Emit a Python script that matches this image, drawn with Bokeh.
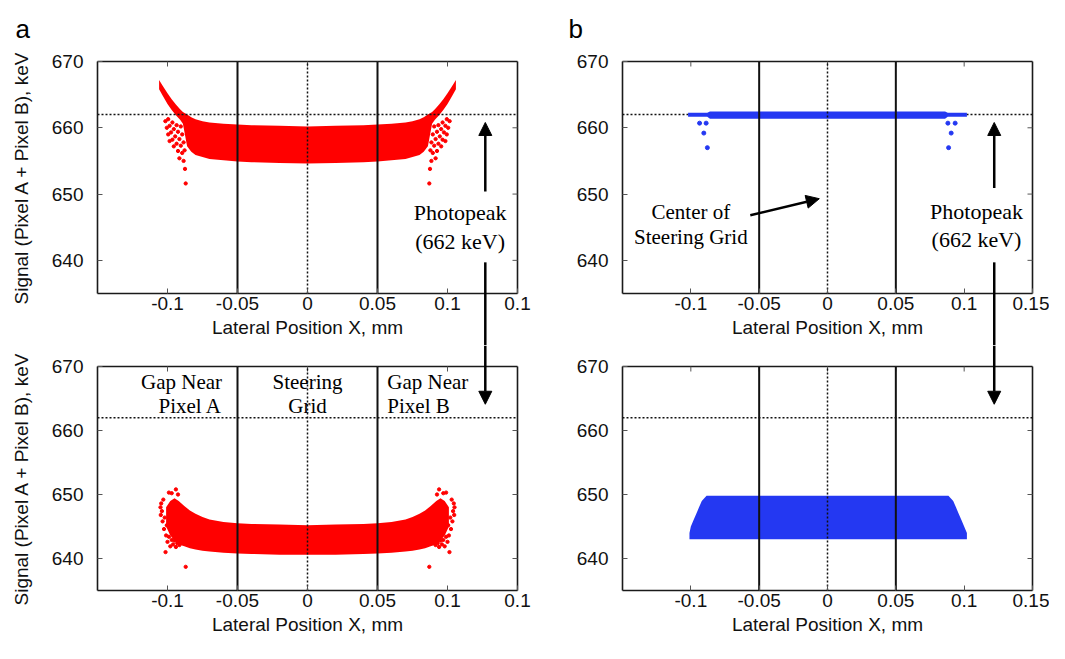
from bokeh.plotting import figure
from bokeh.layouts import column, row
from bokeh.models import Range1d, FixedTicker, LinearAxis, Label, Arrow, NormalHead, Grid
from bokeh.embed import file_html
from bokeh.resources import INLINE

# ---------------- data ----------------
x_ticks = [-0.1, -0.05, 0.0, 0.05, 0.1, 0.15]
x_labels_a = ["-0.1", "-0.05", "0", "0.05", "0.1", "0.1"]
x_labels_b = ["-0.1", "-0.05", "0", "0.05", "0.1", "0.15"]
y_ticks = [640, 650, 660, 670]
x_limits = (-0.15, 0.15)
y_limits = (635, 670)
photopeak_kev = 662
region_bounds = [-0.05, 0.05]
grid_center = [0.0]

# (a) upper panel: dense band (incl. rising horns) + scattered edge points
a1_x = [-0.106, -0.103, -0.100, -0.097, -0.094, -0.091, -0.089, -0.086, -0.083, -0.080, -0.075,
        -0.070, -0.060, -0.050, -0.040, -0.020, 0.0, 0.020, 0.040, 0.050, 0.060, 0.070, 0.075,
        0.080, 0.083, 0.086, 0.089, 0.091, 0.094, 0.097, 0.100, 0.103, 0.106]
a1_hi = [667.2, 666.2, 665.2, 664.3, 663.5, 662.8, 662.4, 662.0, 661.6, 661.3, 661.0,
         660.8, 660.6, 660.5, 660.4, 660.3, 660.2, 660.3, 660.4, 660.5, 660.6, 660.8, 661.0,
         661.3, 661.6, 662.0, 662.4, 662.8, 663.5, 664.3, 665.2, 666.2, 667.2]
a1_lo = [665.8, 664.7, 663.6, 662.7, 661.9, 661.2, 660.6, 657.2, 656.4, 655.9, 655.6,
         655.3, 655.1, 654.9, 654.8, 654.7, 654.6, 654.7, 654.8, 654.9, 655.1, 655.3, 655.6,
         655.9, 656.4, 657.2, 660.6, 661.2, 661.9, 662.7, 663.6, 664.7, 665.8]
a1_pts_x = [-0.1015, -0.1005, -0.0995, -0.0985,
            -0.0995, -0.0985, -0.0975, -0.0965, -0.0955,
            -0.0965, -0.0955, -0.0945, -0.0935, -0.0925, -0.0915,
            -0.0935, -0.0925, -0.0915, -0.0905, -0.0895, -0.0885, -0.0875,
            -0.0905, -0.0895, -0.0885, -0.0878, -0.0870,
            0.1015, 0.1005, 0.0995, 0.0985,
            0.0995, 0.0985, 0.0975, 0.0965, 0.0955,
            0.0965, 0.0955, 0.0945, 0.0935, 0.0925, 0.0915,
            0.0935, 0.0925, 0.0915, 0.0905, 0.0895, 0.0885, 0.0875,
            0.0905, 0.0895, 0.0885, 0.0878, 0.0870]
a1_pts_y = [661.0, 660.0, 659.0, 658.0,
            661.3, 660.3, 659.3, 658.2, 657.2,
            660.8, 659.8, 658.7, 657.6, 656.5, 655.4,
            660.4, 659.4, 658.3, 657.3, 656.2, 655.0, 653.8,
            660.2, 659.0, 657.8, 656.6, 651.6,
            661.0, 660.0, 659.0, 658.0,
            661.3, 660.3, 659.3, 658.2, 657.2,
            660.8, 659.8, 658.7, 657.6, 656.5, 655.4,
            660.4, 659.4, 658.3, 657.3, 656.2, 655.0, 653.8,
            660.2, 659.0, 657.8, 656.6, 651.6]

# (a) lower panel
a2_x = [-0.101, -0.098, -0.095, -0.092, -0.088, -0.084, -0.080, -0.075, -0.070, -0.060, -0.050,
        -0.040, -0.020, 0.0, 0.020, 0.040, 0.050, 0.060, 0.070, 0.075, 0.080, 0.084, 0.088,
        0.092, 0.095, 0.098, 0.101]
a2_hi = [648.0, 649.0, 649.4, 649.0, 648.2, 647.5, 647.0, 646.5, 646.1, 645.7, 645.5,
         645.4, 645.3, 645.2, 645.3, 645.4, 645.5, 645.7, 646.1, 646.5, 647.0, 647.5, 648.2,
         649.0, 649.4, 649.0, 648.0]
a2_lo = [645.0, 643.6, 642.8, 642.2, 641.9, 641.6, 641.4, 641.2, 641.1, 640.9, 640.8,
         640.7, 640.6, 640.6, 640.6, 640.7, 640.8, 640.9, 641.1, 641.2, 641.4, 641.6, 641.9,
         642.2, 642.8, 643.6, 645.0]
a2_pts_x = [-0.105, -0.1048, -0.1045, -0.104, -0.1035, -0.103, -0.1025, -0.102, -0.101, -0.1005,
            -0.100, -0.1014, -0.099, -0.098, -0.097, -0.096, -0.095, -0.094, -0.093, -0.0915,
            -0.099, -0.097, -0.094, -0.0925, -0.087,
            0.105, 0.1048, 0.1045, 0.104, 0.1035, 0.103, 0.1025, 0.102, 0.101, 0.1005,
            0.100, 0.1014, 0.099, 0.098, 0.097, 0.096, 0.095, 0.094, 0.093, 0.0915,
            0.099, 0.097, 0.094, 0.0925, 0.087]
a2_pts_y = [648.0, 646.8, 648.6, 647.4, 645.8, 649.2, 644.6, 646.4, 643.6, 645.2,
            642.6, 641.0, 643.4, 641.9, 642.9, 642.2, 642.8, 641.8, 642.4, 642.1,
            650.3, 650.2, 650.8, 650.0, 638.7,
            648.0, 646.8, 648.6, 647.4, 645.8, 649.2, 644.6, 646.4, 643.6, 645.2,
            642.6, 641.0, 643.4, 641.9, 642.9, 642.2, 642.8, 641.8, 642.4, 642.1,
            650.3, 650.2, 650.8, 650.0, 638.7]

# (b) upper panel
b1_x = [-0.102, -0.088, -0.086, 0.086, 0.088, 0.102]
b1_hi = [662.25, 662.25, 662.45, 662.45, 662.25, 662.25]
b1_lo = [661.65, 661.65, 661.35, 661.35, 661.65, 661.65]
b1_pts_x = [-0.0936, -0.0888, -0.0905, -0.0879, 0.0881, 0.0934, 0.0905, 0.0886]
b1_pts_y = [660.7, 660.7, 659.2, 657.0, 660.7, 660.7, 659.2, 657.0]

# (b) lower panel
b2_x = [-0.101, -0.100, -0.098, -0.096, -0.094, -0.092, -0.0885,
        0.0885, 0.092, 0.094, 0.096, 0.098, 0.100, 0.102]
b2_hi = [644.0, 645.0, 646.0, 647.0, 648.0, 649.0, 649.8,
         649.8, 649.0, 648.0, 647.0, 646.0, 645.0, 644.0]
b2_lo = [643.0, 643.0, 643.0, 643.0, 643.0, 643.0, 643.0,
         643.0, 643.0, 643.0, 643.0, 643.0, 643.0, 643.0]

RED = "#ff0000"
BLUE = "#2438f2"
SANS = "Liberation Sans"
SERIF = "Liberation Serif"
INK = "#111111"
EDGE = "#1a1a1a"
TICK = "#555555"


class Panel:
    def __init__(self, width, height, box, labels, ylabel=None, hline_under=False):
        bx0, bx1, by0, by1 = box
        self.sx = (bx1 - bx0) / (x_limits[1] - x_limits[0])
        self.sy = (by1 - by0) / (y_limits[1] - y_limits[0])
        xr = Range1d(x_limits[0] - bx0 / self.sx, x_limits[1] + (width - bx1) / self.sx)
        yr = Range1d(y_limits[0] - (height - by1) / self.sy, y_limits[1] + by0 / self.sy)
        self.xr, self.yr = xr, yr
        p = figure(width=width, height=height, x_range=xr, y_range=yr,
                   output_backend="svg", toolbar_location=None, title=None,
                   min_border=0, x_axis_location=None, y_axis_location=None)
        p.outline_line_color = None
        p.background_fill_color = "white"
        p.border_fill_color = "white"
        for g in p.select(Grid):
            g.visible = False
        self.p = p

        def style(ax):
            ax.major_label_text_font = SANS
            ax.major_label_text_font_size = "19px"
            ax.major_label_text_color = INK
            ax.axis_label_text_font = SANS
            ax.axis_label_text_font_size = "19px"
            ax.axis_label_text_font_style = "normal"
            ax.axis_label_text_color = INK
            ax.major_tick_in = 5
            ax.major_tick_out = 0
            ax.minor_tick_line_color = None
            ax.axis_line_width = 1.6
            ax.axis_line_color = EDGE
            ax.major_tick_line_color = TICK

        xa = LinearAxis(fixed_location=y_limits[0], bounds=x_limits,
                        ticker=FixedTicker(ticks=x_ticks),
                        major_label_overrides={t: l for t, l in zip(x_ticks, labels)},
                        axis_label="Lateral Position X, mm",
                        major_label_standoff=3, axis_label_standoff=4)
        style(xa)
        p.add_layout(xa, "below")
        ya = LinearAxis(fixed_location=x_limits[0], bounds=y_limits,
                        ticker=FixedTicker(ticks=y_ticks), major_label_standoff=14)
        if ylabel:
            ya.axis_label = ylabel
            ya.axis_label_standoff = 17
        style(ya)
        p.add_layout(ya, "left")

        # closing edges of the box (top and right) with inward mirror ticks
        p.segment(x0=[x_limits[0]], y0=[y_limits[1]], x1=[x_limits[1]], y1=[y_limits[1]],
                  line_color=EDGE, line_width=1.6)
        p.segment(x0=[x_limits[1]], y0=[y_limits[0]], x1=[x_limits[1]], y1=[y_limits[1]],
                  line_color=EDGE, line_width=1.6)
        tick_dy = 5 / self.sy
        tick_dx = 5 / self.sx
        inner_x = x_ticks[:-1]
        inner_y = y_ticks[:-1]
        p.segment(x0=inner_x, y0=[y_limits[1]] * len(inner_x), x1=inner_x,
                  y1=[y_limits[1] - tick_dy] * len(inner_x), line_color=TICK, line_width=1)
        p.segment(x0=[x_limits[1]] * len(inner_y), y0=inner_y,
                  x1=[x_limits[1] - tick_dx] * len(inner_y), y1=inner_y,
                  line_color=TICK, line_width=1)

        if hline_under:
            p.segment(x0=[x_limits[0]], y0=[photopeak_kev], x1=[x_limits[1]], y1=[photopeak_kev],
                      line_color=INK, line_width=1.5, line_dash="2 2", level="underlay")
        self.hline_under = hline_under

    def finish(self):
        p = self.p
        n = len(region_bounds)
        p.segment(x0=region_bounds, y0=[y_limits[0]] * n, x1=region_bounds, y1=[y_limits[1]] * n,
                  line_color=INK, line_width=2)
        p.segment(x0=grid_center, y0=[y_limits[0]], x1=grid_center, y1=[y_limits[1]],
                  line_color=INK, line_width=1.5, line_dash="2 2")
        if not self.hline_under:
            p.segment(x0=[x_limits[0]], y0=[photopeak_kev], x1=[x_limits[1]], y1=[photopeak_kev],
                      line_color=INK, line_width=1.5, line_dash="2 2")

    def px(self, px):
        return self.xr.start + px / self.sx

    def py(self, py):
        return self.yr.end - py / self.sy

    def arrow(self, x0, y0, x1, y1, head=True):
        end = NormalHead(size=13, fill_color="black", line_color="black") if head else None
        self.p.add_layout(Arrow(end=end, x_start=x0, y_start=y0, x_end=x1, y_end=y1,
                                line_color="black", line_width=2.5))

    def text(self, x, y, t, align="center", size="21px", font=SERIF, baseline="middle"):
        self.p.add_layout(Label(x=x, y=y, text=t, text_align=align, text_baseline=baseline,
                                text_font=font, text_font_size=size, text_color="black"))


W_L, W_R = 535, 514
H_T, H_B = 345, 298
BOX_LT = (97, 517, 61, 293)
BOX_RT = (87, 497, 61, 293)
BOX_LB = (97, 517, 21, 245)
BOX_RB = (87, 497, 21, 245)

# panel (a) top
A1 = Panel(W_L, H_T, BOX_LT, x_labels_a, "Signal (Pixel A + Pixel B), keV")
A1.p.varea(x=a1_x, y1=a1_lo, y2=a1_hi, fill_color=RED)
A1.p.scatter(a1_pts_x, a1_pts_y, size=3.3, color=RED)
A1.finish()
A1.text(0.109, 647.2, "Photopeak", size="22px")
A1.text(0.109, 642.8, "(662 keV)", size="22px")
A1.arrow(0.127, 650.4, 0.127, 660.8)
A1.arrow(0.127, 639.7, 0.127, A1.yr.start, head=False)
A1.text(A1.px(15), A1.py(28), "a", align="left", size="26px", font=SANS, baseline="alphabetic")

# panel (b) top
B1 = Panel(W_R, H_T, BOX_RT, x_labels_b, None, hline_under=True)
B1.p.varea(x=b1_x, y1=b1_lo, y2=b1_hi, fill_color=BLUE)
B1.p.scatter(b1_pts_x, b1_pts_y, size=4, color=BLUE)
B1.finish()
B1.text(0.109, 647.4, "Photopeak", size="22px")
B1.text(0.109, 643.1, "(662 keV)", size="22px")
B1.arrow(0.122, 650.9, 0.122, 660.8)
B1.arrow(0.122, 639.7, 0.122, B1.yr.start, head=False)
B1.text(-0.100, 647.3, "Center of")
B1.text(-0.100, 643.5, "Steering Grid")
B1.arrow(-0.0565, 646.8, -0.006, 649.3)
B1.text(B1.px(33), B1.py(28), "b", align="left", size="26px", font=SANS, baseline="alphabetic")

# panel (a) bottom
A2 = Panel(W_L, H_B, BOX_LB, x_labels_a, "Signal (Pixel A + Pixel B), keV")
A2.p.varea(x=a2_x, y1=a2_lo, y2=a2_hi, fill_color=RED)
A2.p.scatter(a2_pts_x, a2_pts_y, size=3.3, color=RED)
A2.finish()
A2.text(-0.061, 667.6, "Gap Near", align="right")
A2.text(-0.061, 663.9, "Pixel A", align="right")
A2.text(0.0, 667.6, "Steering")
A2.text(0.0, 663.9, "Grid")
A2.text(0.057, 667.6, "Gap Near", align="left")
A2.text(0.057, 663.9, "Pixel B", align="left")
A2.arrow(0.127, A2.yr.end, 0.127, 664.1)

# panel (b) bottom
B2 = Panel(W_R, H_B, BOX_RB, x_labels_b, None)
B2.p.varea(x=b2_x, y1=b2_lo, y2=b2_hi, fill_color=BLUE)
B2.finish()
B2.arrow(0.122, B2.yr.end, 0.122, 664.1)

layout = column(row(A1.p, B1.p), row(A2.p, B2.p))
open("out.html", "w").write(file_html(layout, INLINE))
